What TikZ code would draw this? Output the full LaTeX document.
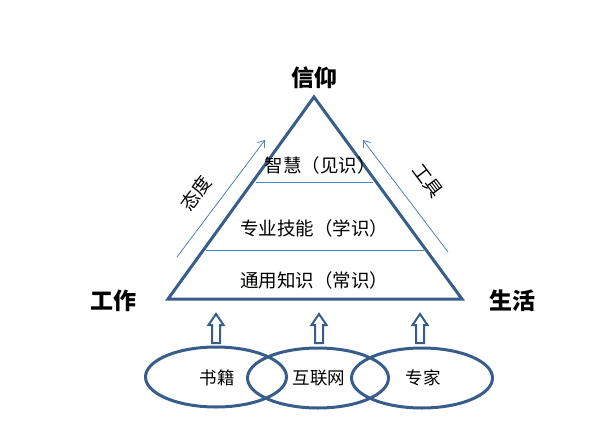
\documentclass[tikz,border=0pt]{standalone}
\usepackage{fontspec}
\newfontfamily\cjk{Noto Sans CJK SC}
\usetikzlibrary{arrows.meta,shapes.geometric}
\definecolor{outl}{HTML}{385D8A}
\definecolor{lineb}{HTML}{4F81BD}
\tikzset{
  tri/.style={draw=outl, line width=3pt, line join=miter},
  layer/.style={draw=lineb, line width=0.9pt},
  thinarrow/.style={draw=lineb, line width=0.8pt, -{Straight Barb[length=6pt,width=9pt]}},
  lbl/.style={font=\cjk\fontsize{18.5}{20}\selectfont, inner sep=0pt},
  big/.style={font=\cjk\bfseries\fontsize{23}{25}\selectfont, inner sep=0pt},
  small/.style={font=\cjk\fontsize{17.5}{19}\selectfont, inner sep=0pt},
  src/.style={draw=outl, line width=3pt, ellipse, minimum width=141pt, minimum height=60pt, inner sep=0pt},
  hollow/.style={draw=outl, line width=2pt, fill=white, line join=miter},
}
\begin{document}
\begin{tikzpicture}[x=1pt,y=-1pt]
\useasboundingbox (0,0) rectangle (613,447);
% triangle
\coordinate (A) at (314,97);
\coordinate (B) at (168,299);
\coordinate (C) at (462,299);
\draw[tri] (A) -- (B) -- (C) -- cycle;
% layer lines
\coordinate (L1a) at (256,182); \coordinate (L1b) at (373,182);
\coordinate (L2a) at (206,250); \coordinate (L2b) at (424,250);
\draw[layer] (L1a) -- (L1b);
\draw[layer] (L2a) -- (L2b);
% layer labels
\node[lbl] (wis) at (320,165) {智慧（见识）};
\node[lbl] (pro) at (314,228) {专业技能（学识）};
\node[lbl] (gen) at (314,280) {通用知识（常识）};
% corner labels
\node[big] (faith) at (314,78) {信仰};
\node[big] (work) at (113,301) {工作};
\node[big] (life) at (512,301) {生活};
% side arrows
\coordinate (la0) at (177,257); \coordinate (la1) at (265,140);
\coordinate (ra0) at (448,252); \coordinate (ra1) at (363,140);
\draw[thinarrow] (la0) -- (la1);
\draw[thinarrow] (ra0) -- (ra1);
\node[lbl, rotate=53] (att) at (196,193) {态度};
\node[lbl, rotate=-53] (tool) at (428,181) {工具};
% source ellipses
\node[src] (e1) at (216,377) {};
\node[src] (e2) at (318,378) {};
\node[src] (e3) at (422,378) {};
\node[small] (t1) at (217,378) {书籍};
\node[small] (t2) at (319,378) {互联网};
\node[small] (t3) at (423,378) {专家};
% hollow arrows
\coordinate (h1) at (216,343);
\coordinate (h2) at (319,343);
\coordinate (h3) at (420,343);
\foreach \h in {h1,h2,h3}{
  \draw[hollow, shift={(\h)}] (-4,0) -- (-4,-18) -- (-7.5,-18) -- (0,-29) -- (7.5,-18) -- (4,-18) -- (4,0) -- cycle;
}
\end{tikzpicture}
\end{document}
